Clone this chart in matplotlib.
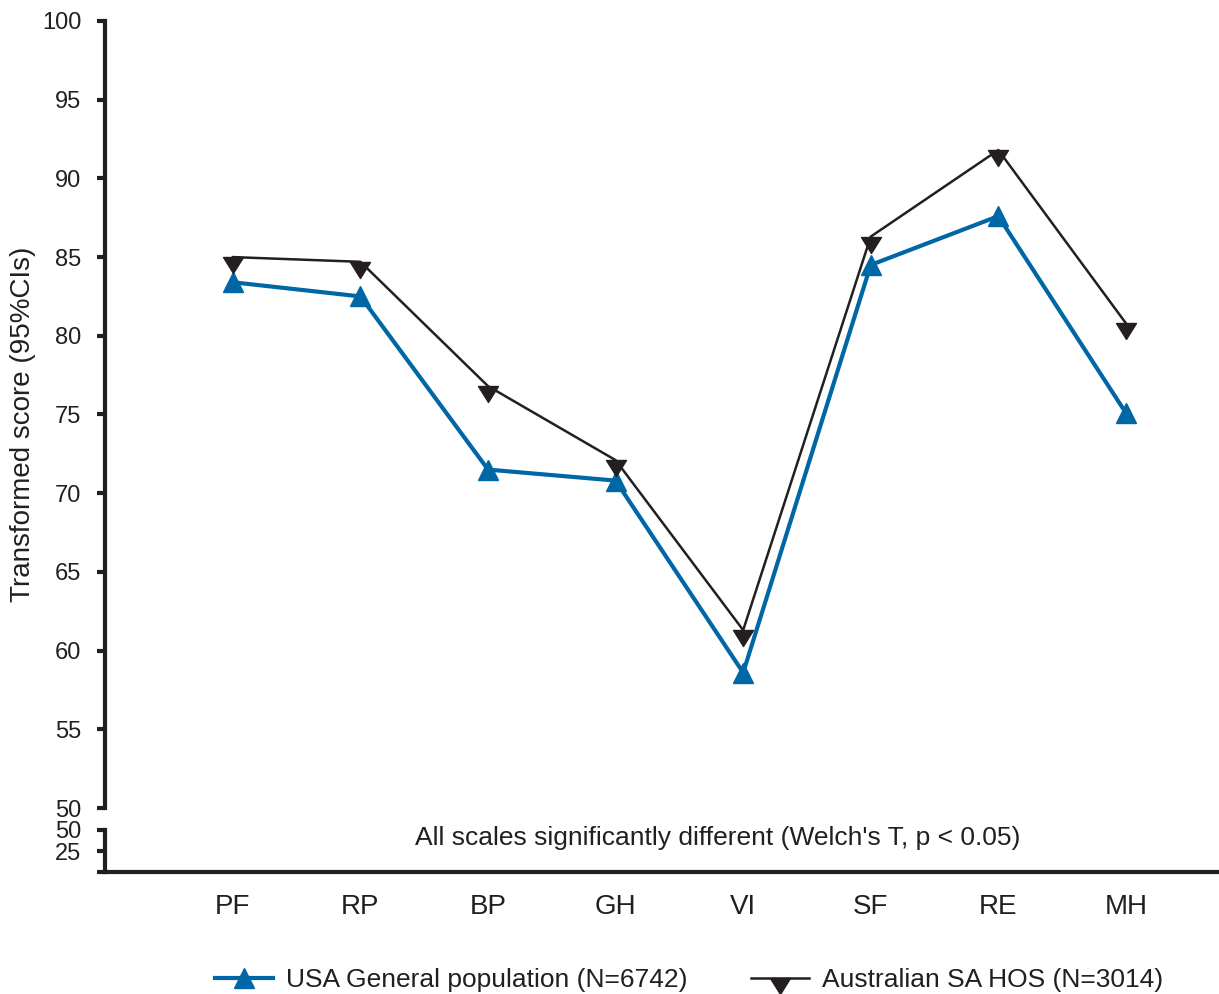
import matplotlib.pyplot as plt
from matplotlib.path import Path

plt.rcParams["font.family"] = ["Liberation Sans", "DejaVu Sans"]

scales = ["PF", "RP", "BP", "GH", "VI", "SF", "RE", "MH"]
usa_scores = [83.4, 82.5, 71.5, 70.8, 58.6, 84.5, 87.6, 75.1]
sa_hos_scores = [85.0, 84.7, 76.8, 72.1, 61.3, 86.3, 91.8, 80.8]
usa_label = "USA General population (N=6742)"
sa_label = "Australian SA HOS (N=3014)"
note = "All scales significantly different (Welch's T, p < 0.05)"

BLUE = "#0067a6"
BLACK = "#231f20"

# down triangle hanging below its data point
down_tri = Path([(-1.0, 0.0), (1.0, 0.0), (0.0, -1.6), (-1.0, 0.0)],
                [Path.MOVETO, Path.LINETO, Path.LINETO, Path.CLOSEPOLY])

fig = plt.figure(figsize=(12.19, 9.94), dpi=100)
ax = fig.add_axes([0.0861, 0.1871, 0.9139, 0.7918])
low = fig.add_axes([0.0861, 0.1227, 0.9139, 0.0423])

x = list(range(len(scales)))
ax.plot(x, usa_scores, color=BLUE, lw=3.0, marker="^", ms=14,
        mec=BLUE, mfc=BLUE, label=usa_label, zorder=3)
ax.plot(x, sa_hos_scores, color=BLACK, lw=1.8, marker=down_tri, ms=23,
        mec=BLACK, mfc=BLACK, label=sa_label, zorder=4)

ax.set_xlim(-1.003, 7.73)
ax.set_ylim(50, 100)
ax.set_yticks(range(50, 101, 5))
ax.set_xticks([])
for s in ["top", "right", "bottom"]:
    ax.spines[s].set_visible(False)
ax.spines["left"].set_linewidth(3)
ax.spines["left"].set_color(BLACK)
ax.tick_params(axis="y", length=6, width=3, color=BLACK, labelsize=17,
               pad=11, labelcolor=BLACK)
ax.set_ylabel("Transformed score (95%CIs)", fontsize=20, color=BLACK)
ax.yaxis.set_label_coords(-0.062, 0.488)

low.set_xlim(-1.003, 7.73)
low.set_ylim(0, 50)
low.set_yticks([0, 25, 50])
low.set_yticklabels(["", "25", "50"])
low.set_xticks(x)
low.set_xticklabels(scales)
for s in ["top", "right"]:
    low.spines[s].set_visible(False)
for s in ["left", "bottom"]:
    low.spines[s].set_linewidth(3)
    low.spines[s].set_color(BLACK)
low.tick_params(axis="y", length=6, width=3, color=BLACK, labelsize=17,
                pad=11, labelcolor=BLACK)
low.tick_params(axis="x", length=0, labelsize=20, pad=16, labelcolor=BLACK)
low.text(0.55, 0.81, note, transform=low.transAxes, ha="center", va="center",
         fontsize=19, color=BLACK)
low.patch.set_alpha(0)

fig.legend(*ax.get_legend_handles_labels(), loc="center", ncol=2,
           bbox_to_anchor=(0.565, 0.014), frameon=False, fontsize=19,
           handlelength=2.2, columnspacing=2.4, handletextpad=0.5,
           labelcolor=BLACK)

fig.savefig("out.png", dpi=100)
